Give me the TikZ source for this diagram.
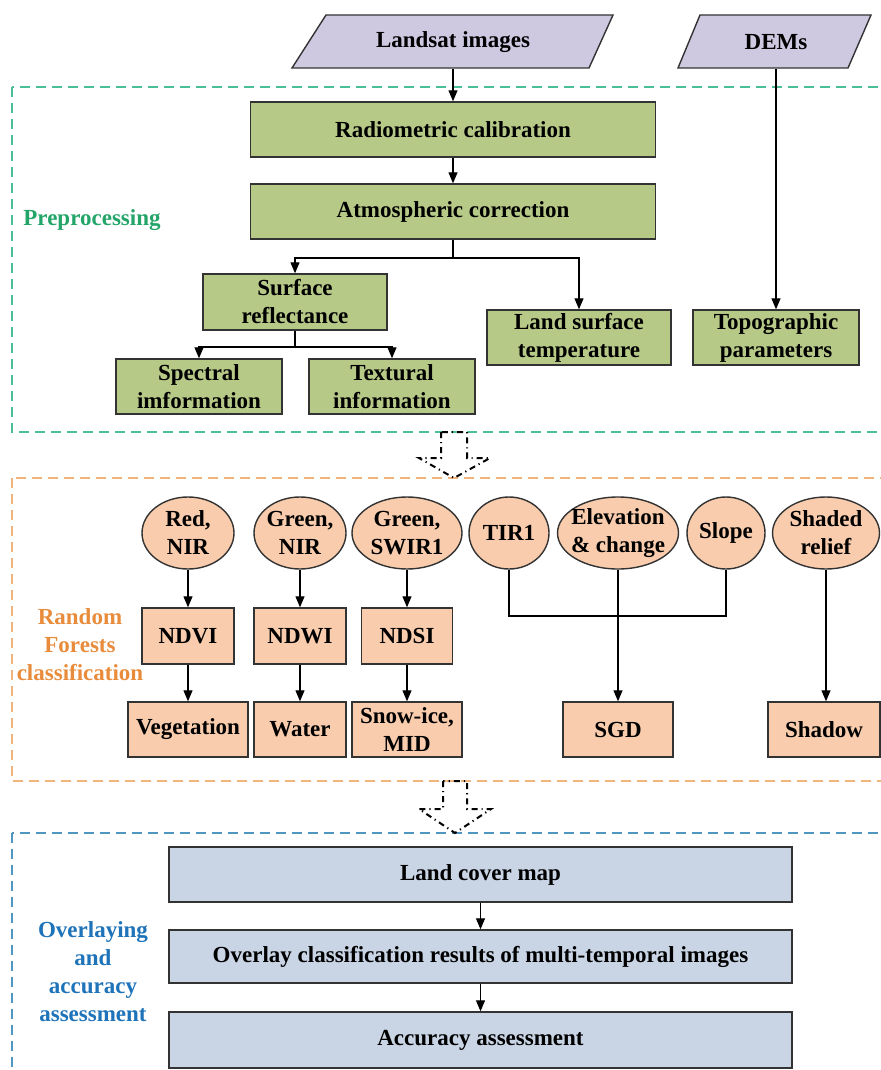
\documentclass[tikz,border=0pt]{standalone}
\usepackage{fontspec}
\setmainfont{Liberation Serif}
\usetikzlibrary{arrows.meta,shapes.geometric}

\definecolor{inputfill}{RGB}{206,200,225}
\definecolor{prefill}{RGB}{183,201,135}
\definecolor{rffill}{RGB}{248,204,172}
\definecolor{outfill}{RGB}{201,213,229}
\definecolor{preline}{RGB}{75,190,150}
\definecolor{pretext}{RGB}{35,165,105}
\definecolor{rfline}{RGB}{240,180,125}
\definecolor{rftext}{RGB}{232,140,60}
\definecolor{outline}{RGB}{80,150,195}
\definecolor{outtext}{RGB}{30,115,185}

\begin{document}
\begin{tikzpicture}[x=0.5pt,y=-0.5pt,
    every node/.style={font=\fontsize{11.5}{14}\selectfont\bfseries, align=center, inner sep=1pt},
    inputbox/.style={rectangle, minimum height=26.5pt},
    inputshape/.style={draw=black!80, line width=0.7pt, fill=inputfill},
    prebox/.style={rectangle, draw=black!80, line width=0.7pt, fill=prefill},
    bandnode/.style={ellipse, draw=black!80, line width=0.7pt, fill=rffill,
        inner xsep=-2.5pt, inner ysep=0pt, minimum height=36pt},
    rfbox/.style={rectangle, draw=black!80, line width=0.7pt, fill=rffill},
    outbox/.style={rectangle, draw=black!80, line width=0.7pt, fill=outfill,
        minimum width=311.5pt},
    arr/.style={-{Triangle[length=5.5pt,width=4.5pt]}, line width=0.55pt},
    link/.style={line width=0.55pt},
    frame/.style={dash pattern=on 5pt off 3pt, line width=0.7pt},
    hollow/.style={line width=1pt, dash pattern=on 3pt off 2pt on 0.6pt off 2pt}
]

\clip (0,0) rectangle (881,1070);

% Dashed frames of the three stages
\draw[frame, preline] (12,87) rectangle (900,432);
\draw[frame, rfline] (12,478) rectangle (900,781);
\draw[frame, outline] (12,833) rectangle (900,1090);

% Input data (parallelograms)
\draw[inputshape] (326,15) -- (613,15) -- (589,68) -- (292,68) -- cycle;
\draw[inputshape] (700,15) -- (871,15) -- (848,68) -- (678,68) -- cycle;
\node[inputbox, minimum width=140pt] (landsat) at (453,42) {Landsat images};
\node[inputbox, minimum width=80pt] (dem) at (776,42) {DEMs};

% Preprocessing
\node[prebox, minimum width=202.5pt, minimum height=27.5pt] (radcal) at (453,129.5) {Radiometric calibration};
\node[prebox, minimum width=202.5pt, minimum height=27.5pt] (atmcor) at (453,211.5) {Atmospheric correction};
\node[prebox, minimum width=92pt, minimum height=28pt] (surfref) at (295,302) {Surface\\reflectance};
\node[prebox, minimum width=92pt, minimum height=27.5pt] (lst) at (579,337.5) {Land surface\\temperature};
\node[prebox, minimum width=83pt, minimum height=27.5pt] (topo) at (776,337.5) {Topographic\\parameters};
\node[prebox, minimum width=83pt, minimum height=27.5pt] (spectral) at (199,386.5) {Spectral\\imformation};
\node[prebox, minimum width=83pt, minimum height=27.5pt] (textural) at (392,386.5) {Textural\\information};
\node[text=pretext] (prelbl) at (92,220) {Preprocessing};

\coordinate (atmsplit) at (453,258);
\coordinate (srsplit) at (295,347);

\draw[arr] (landsat.south) -- (radcal.north);
\draw[arr] (radcal.south) -- (atmcor.north);
\draw[link] (atmcor.south) -- (atmsplit);
\draw[arr] (atmsplit) -| (surfref.north);
\draw[arr] (atmsplit) -| (lst.north);
\draw[arr] (dem.south) -- (topo.north);
\draw[link] (surfref.south) -- (srsplit);
\draw[arr] (srsplit) -| (spectral.north);
\draw[arr] (srsplit) -| (textural.north);

% Hollow arrow to classification
\draw[hollow] (441,432) -- (441,458) -- (419,458) -- (454,478) -- (490,458) -- (467,458) -- (467,432) -- cycle;

% Random Forests classification
\node[bandnode, minimum width=46pt] (rednir) at (188,533) {Red,\\NIR};
\node[bandnode, minimum width=46pt] (greennir) at (300,533) {Green,\\NIR};
\node[bandnode, minimum width=55pt] (greenswir) at (407,533) {Green,\\SWIR1};
\node[bandnode, minimum width=40pt] (tir) at (509,533) {TIR1};
\node[bandnode, minimum width=60.5pt] (elev) at (618,533) {Elevation\\\& change};
\node[bandnode, minimum width=39pt] (slope) at (726,533) {Slope};
\node[bandnode, minimum width=53.5pt] (shaded) at (826,533) {Shaded\\relief};

\node[rfbox, minimum width=46pt, minimum height=28pt] (ndvi) at (188,636) {NDVI};
\node[rfbox, minimum width=46pt, minimum height=28pt] (ndwi) at (300,636) {NDWI};
\node[rfbox, minimum width=45.5pt, minimum height=28pt] (ndsi) at (407,636) {NDSI};

\node[rfbox, minimum width=60pt, minimum height=27.5pt] (veg) at (188,729.5) {Vegetation};
\node[rfbox, minimum width=46pt, minimum height=27.5pt] (water) at (300,729.5) {Water};
\node[rfbox, minimum width=55pt, minimum height=27.5pt] (snow) at (407,729.5) {Snow-ice,\\MID};
\node[rfbox, minimum width=55pt, minimum height=27.5pt] (sgd) at (618,729.5) {SGD};
\node[rfbox, minimum width=56pt, minimum height=27.5pt] (shadow) at (824,729.5) {Shadow};
\node[text=rftext] (rflbl) at (80,645) {Random\\Forests\\classification};

\coordinate (tirjoin) at (509,616);

\draw[arr] (rednir.south) -- (ndvi.north);
\draw[arr] (greennir.south) -- (ndwi.north);
\draw[arr] (greenswir.south) -- (ndsi.north);
\draw[arr] (ndvi.south) -- (veg.north);
\draw[arr] (ndwi.south) -- (water.north);
\draw[arr] (ndsi.south) -- (snow.north);
\draw[link] (tir.south) -- (tirjoin) -| (slope.south);
\draw[arr] (elev.south) -- (sgd.north);
\draw[arr] (shaded.south) -- (shadow.north -| shaded.south);

% Hollow arrow to overlaying
\draw[hollow] (443,781) -- (443,809) -- (419,809) -- (455,833) -- (491,809) -- (467,809) -- (467,781) -- cycle;

% Overlaying and accuracy assessment
\node[outbox, minimum height=27.5pt] (landcover) at (480.5,874.5) {Land cover map};
\node[outbox, minimum height=26.5pt] (overlay) at (480.5,956.5) {Overlay classification results of multi-temporal images};
\node[outbox, minimum height=28pt] (accuracy) at (480.5,1040) {Accuracy assessment};
\node[text=outtext] (outlbl) at (93,972) {Overlaying\\and\\accuracy\\assessment};

\draw[arr] (landcover.south) -- (overlay.north);
\draw[arr] (overlay.south) -- (accuracy.north);

\end{tikzpicture}
\end{document}
